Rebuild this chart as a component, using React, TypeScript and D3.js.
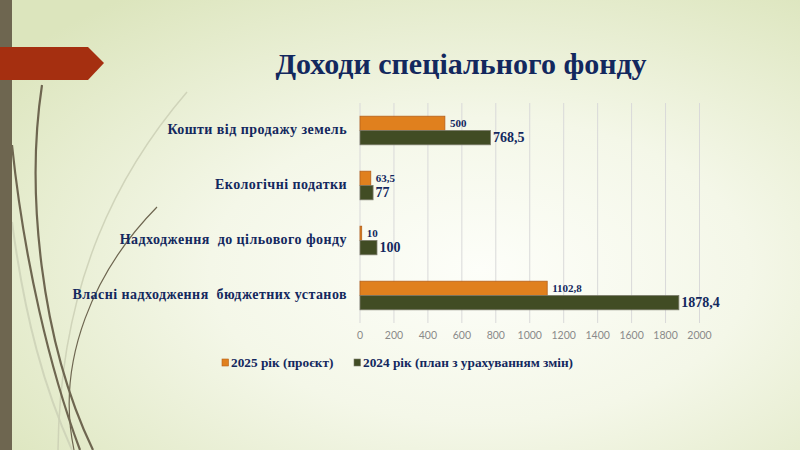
import React from "react";
import * as d3 from "d3";

const categories = [
  "Кошти від продажу земель",
  "Екологічні податки",
  "Надходження  до цільового фонду",
  "Власні надходження  бюджетних установ",
];
const seriesNames = ["2025 рік (проєкт)", "2024 рік (план з урахуванням змін)"];
const values2025 = [500, 63.5, 10, 1102.8];
const values2024 = [768.5, 77, 100, 1878.4];
const xTicks = [0, 200, 400, 600, 800, 1000, 1200, 1400, 1600, 1800, 2000];

const ORANGE = "#E0801E";
const GREEN = "#414C24";
const NAVY = "#13285E";
const SERIF = "'Liberation Serif', 'DejaVu Serif', serif";

const fmt = (v: number) => String(v).replace(".", ",");

export default function App() {
  const W = 800;
  const H = 450;
  const x = d3.scaleLinear().domain([0, 2000]).range([360, 699.5]);
  const y = d3.scaleBand<string>().domain(categories).range([103, 323]);
  const groupH = 28.6;
  const inner = d3.scaleBand<string>().domain(["a", "b"]).range([0, groupH]);
  const seriesData = [
    { key: "a", values: values2025, color: ORANGE, stroke: "#B5601A", fs: 11, gap: 5 },
    { key: "b", values: values2024, color: GREEN, stroke: "#7a7a6a", fs: 14, gap: 2.5 },
  ];

  return (
    <svg
      width={W}
      height={H}
      style={{ position: "absolute", left: 0, top: 0 }}
      xmlns="http://www.w3.org/2000/svg"
    >
      <defs>
        <radialGradient id="bg" cx="0.6" cy="0.6" r="0.75">
          <stop offset="0" stopColor="#FDFEF9" />
          <stop offset="0.45" stopColor="#F4F7E8" />
          <stop offset="1" stopColor="#DCE5BD" />
        </radialGradient>
      </defs>
      <rect x={0} y={0} width={W} height={H} fill="url(#bg)" />

      {/* decorative curves */}
      <g fill="none">
        <path d="M187,92 C120,170 60,280 58,450" stroke="#C9CDB3" strokeWidth={1.5} opacity={0.8} />
        <path d="M12,222 C25,320 45,390 72,450" stroke="#CBD0B5" strokeWidth={2} opacity={0.8} />
        <path d="M42,85 C26,190 40,340 93,450" stroke="#6E6650" strokeWidth={2.2} />
        <path d="M12,145 C24,260 50,370 80,450" stroke="#6E6650" strokeWidth={2.2} />
        <path d="M157,207 C95,270 55,360 74,450" stroke="#6E6650" strokeWidth={1.2} />
      </g>

      {/* left bar */}
      <rect x={0} y={0} width={12} height={H} fill="#6E6650" />
      {/* red arrow */}
      <path d="M0,47 L88,47 L104,63 L88,80 L0,80 Z" fill="#A52F10" />

      {/* title */}
      <text
        x={461}
        y={74}
        textAnchor="middle"
        fontFamily={SERIF}
        fontWeight="bold"
        fontSize={30}
        fill={NAVY}
      >
        Доходи спеціального фонду
      </text>

      {/* gridlines */}
      {xTicks.map((t) => (
        <line key={"g" + t} x1={x(t)} x2={x(t)} y1={103} y2={323} stroke="#D9D9D9" strokeWidth={1} />
      ))}
      {/* tick labels */}
      {xTicks.map((t) => (
        <text
          key={"t" + t}
          x={x(t)}
          y={336}
          textAnchor="middle"
          dominantBaseline="middle"
          fontFamily="'Lato', 'DejaVu Sans', sans-serif"
          fontSize={10.5}
          fill="#8A8A8A"
        >
          {t}
        </text>
      ))}

      {/* bars */}
      {categories.map((c, i) => {
        const top = (y(c) as number) + y.bandwidth() / 2 - groupH / 2;
        return (
          <g key={c}>
            {seriesData.map((s) => {
              const by = top + (inner(s.key) as number);
              const bh = inner.bandwidth();
              const v = s.values[i];
              return (
                <g key={s.key}>
                  <rect
                    x={x(0)}
                    y={by}
                    width={x(v) - x(0)}
                    height={bh}
                    fill={s.color}
                    stroke={s.stroke}
                    strokeWidth={0.8}
                  />
                  <text
                    x={x(v) + s.gap}
                    y={by + bh / 2 + 1}
                    dominantBaseline="middle"
                    fontFamily={SERIF}
                    fontWeight="bold"
                    fontSize={s.fs}
                    fill={NAVY}
                  >
                    {fmt(v)}
                  </text>
                </g>
              );
            })}
            <text
              x={347}
              y={(y(c) as number) + y.bandwidth() / 2}
              textAnchor="end"
              dominantBaseline="middle"
              fontFamily={SERIF}
              fontWeight="bold"
              fontSize={14}
              letterSpacing={0.45}
              fill={NAVY}
              style={{ whiteSpace: "pre" }}
            >
              {c}
            </text>
          </g>
        );
      })}

      {/* legend */}
      <g>
        <rect x={222} y={359} width={6.5} height={7} fill={ORANGE} stroke="#B5601A" strokeWidth={0.6} />
        <text x={231} y={367} fontFamily={SERIF} fontWeight="bold" fontSize={13.3} fill={NAVY}>
          {seriesNames[0]}
        </text>
        <rect x={354} y={359} width={6.5} height={7} fill={GREEN} stroke="#7a7a6a" strokeWidth={0.6} />
        <text x={363} y={367} fontFamily={SERIF} fontWeight="bold" fontSize={13.3} fill={NAVY}>
          {seriesNames[1]}
        </text>
      </g>
    </svg>
  );
}
